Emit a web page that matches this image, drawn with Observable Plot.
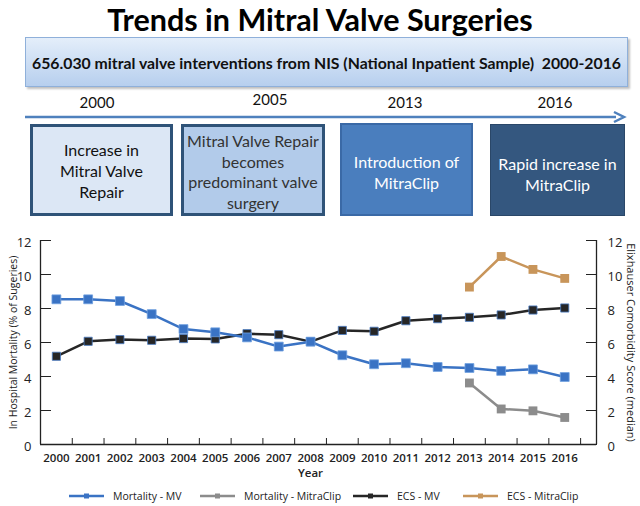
<!DOCTYPE html>
<html>
<head>
<meta charset="utf-8">
<script src="https://cdn.jsdelivr.net/npm/d3@7"></script>
<script src="https://cdn.jsdelivr.net/npm/@observablehq/plot@0.6"></script>
<style>
  html, body { margin: 0; padding: 0; background: #fff; }
  #wrap { position: relative; width: 640px; height: 506px; overflow: hidden; font-family: Lato, "Open Sans", sans-serif; }
  .abs { position: absolute; }
  #title { left: 0; width: 640px; top: 1px; text-align: center; font-size: 30.5px; font-weight: bold; color: #000; }
  #banner { left: 25px; top: 37px; width: 601px; height: 48px; border: 1px solid #8fb0da;
    background: linear-gradient(#e4eefa, #b7cfee); box-shadow: 2px 2px 2px rgba(0,0,0,0.25);
    display: flex; align-items: center; justify-content: center; font-size: 15.8px; font-weight: bold; color: #111; white-space: pre; }
  .yr { font-size: 15px; color: #111; transform: translateX(-50%); }
  .box { box-sizing: border-box; display: flex; flex-direction: column; align-items: center; justify-content: center; text-align: center; font-size: 16px; line-height: 21px; }
  #legend { left: 0; top: 489px; width: 640px; height: 16px; font-family: "Open Sans", sans-serif; font-size: 10.5px; color: #222; }
  .lg { position: absolute; display: flex; align-items: center; }
  #plot { left: 0; top: 228px; }
</style>
</head>
<body>
<div id="wrap">
  <div id="title" class="abs">Trends in Mitral Valve Surgeries</div>
  <div id="banner" class="abs">656.030 mitral valve interventions from NIS (National Inpatient Sample)  2000-2016</div>
  <div class="abs yr" style="left:97px; top:93px;">2000</div>
  <div class="abs yr" style="left:270px; top:90px;">2005</div>
  <div class="abs yr" style="left:405px; top:93px;">2013</div>
  <div class="abs yr" style="left:555px; top:93px;">2016</div>
  <svg class="abs" style="left:0; top:108px;" width="640" height="20">
    <line x1="25" y1="9" x2="616" y2="9" stroke="#4f81bd" stroke-width="2.5"/>
    <path d="M614,4 L624,9 L614,14" fill="none" stroke="#4f81bd" stroke-width="2.5"/>
  </svg>
  <div class="abs box" style="left:30px; top:124px; width:143px; height:92px; background:#dce7f5; border:3px solid #2f5378; color:#111;">Increase in<br>Mitral Valve<br>Repair</div>
  <div class="abs box" style="left:181px; top:124px; width:144px; height:92px; background:#b2cbea; border:3px solid #2f5378; color:#333; justify-content:flex-start; padding-top:4px; line-height:20.5px; overflow:hidden;">Mitral Valve Repair<br>becomes<br>predominant valve<br>surgery</div>
  <div class="abs box" style="left:340px; top:123px; width:133px; height:93px; background:#4a7ebe; border:2px solid #3a69a6; color:#fff; padding-bottom:0px; padding-top:4px;">Introduction of<br>MitraClip</div>
  <div class="abs box" style="left:490px; top:124px; width:135px; height:92px; background:#34577f; border:1px solid #2a4768; color:#fff; padding-top:8px;">Rapid increase in<br>MitraClip</div>
  <div id="plot" class="abs"></div>
  <div id="legend" class="abs"></div>
</div>
<script>
const years = [2000, 2001, 2002, 2003, 2004, 2005, 2006, 2007, 2008, 2009, 2010, 2011, 2012, 2013, 2014, 2015, 2016];
const mortalityMV = [8.54, 8.54, 8.44, 7.67, 6.79, 6.60, 6.30, 5.76, 6.05, 5.25, 4.72, 4.78, 4.56, 4.50, 4.33, 4.42, 3.97];
const ecsMV = [5.19, 6.07, 6.17, 6.13, 6.23, 6.21, 6.52, 6.46, 6.05, 6.71, 6.66, 7.28, 7.40, 7.48, 7.62, 7.91, 8.03];
const clipYears = [2013, 2014, 2015, 2016];
const mortalityClip = [3.62, 2.09, 1.98, 1.59];
const ecsClip = [9.26, 11.06, 10.30, 9.77];
const yTicks = [0, 2, 4, 6, 8, 10, 12];
const seriesNames = ["Mortality - MV", "Mortality - MitraClip", "ECS - MV", "ECS - MitraClip"];
const seriesColors = ["#3a73c4", "#8c8c8c", "#262626", "#c8955a"];

const mv = years.map((y, i) => ({year: y, mort: mortalityMV[i], ecs: ecsMV[i]}));
const clip = clipYears.map((y, i) => ({year: y, mort: mortalityClip[i], ecs: ecsClip[i]}));
const bounds = [years[0] - 0.5, ...years.map(y => y + 0.5)];
const xDomain = [years[0] - 0.5, years[years.length - 1] + 1];
const font = "'Open Sans', sans-serif";

const plot = Plot.plot({
  width: 640,
  height: 252,
  marginLeft: 40,
  marginRight: 44,
  marginTop: 12,
  marginBottom: 36,
  style: {fontFamily: font, fontSize: "13px", color: "#222", background: "transparent", overflow: "visible"},
  x: {domain: xDomain},
  y: {domain: [0, 12]},
  marks: [
    Plot.ruleX([xDomain[0], xDomain[1]], {stroke: "#222", strokeWidth: 1.3}),
    Plot.ruleY([0], {stroke: "#222", strokeWidth: 1.3}),
    Plot.axisY({anchor: "left", ticks: yTicks, tickSize: -11, tickFormat: () => "", label: null}),
    Plot.axisY({anchor: "right", ticks: yTicks, tickSize: -11, tickFormat: () => "", label: null}),
    Plot.axisY({anchor: "left", ticks: yTicks, tickSize: 0, tickPadding: 9, dy: 2, label: null, fontSize: 13}),
    Plot.axisY({anchor: "right", ticks: yTicks, tickSize: 0, tickPadding: 11, dy: 2, label: null, fontSize: 13}),
    Plot.axisX({ticks: years, tickSize: 0, tickPadding: 9, tickFormat: d => String(d), label: null, fontSize: 11.5, fontWeight: "600"}),
    Plot.axisX({ticks: bounds, tickSize: -6, tickFormat: () => "", label: null}),
    Plot.text(["In Hospital Mortality (% of Sugeries)"], {frameAnchor: "left", textAnchor: "middle", rotate: -90, dx: -27, fontSize: 10.5}),
    Plot.text(["Elixhauser Comorbidity Score (median)"], {frameAnchor: "right", textAnchor: "middle", rotate: 90, dx: 34, fontSize: 11}),
    Plot.text(["Year"], {frameAnchor: "bottom", dy: 32, dx: -8, fontSize: 11.5, fontWeight: "600"}),
    Plot.line(mv, {x: "year", y: "ecs", stroke: seriesColors[2], strokeWidth: 2.5}),
    Plot.dot(mv, {x: "year", y: "ecs", symbol: "square", r: 4.6, fill: seriesColors[2], stroke: "#4a7cc4", strokeWidth: 0.8}),
    Plot.line(mv, {x: "year", y: "mort", stroke: seriesColors[0], strokeWidth: 2.5}),
    Plot.dot(mv, {x: "year", y: "mort", symbol: "square", r: 5, fill: seriesColors[0], stroke: "#6e9fe0", strokeWidth: 0.8}),
    Plot.line(clip, {x: "year", y: "mort", stroke: seriesColors[1], strokeWidth: 2.5}),
    Plot.dot(clip, {x: "year", y: "mort", symbol: "square", r: 5, fill: seriesColors[1]}),
    Plot.line(clip, {x: "year", y: "ecs", stroke: seriesColors[3], strokeWidth: 2.5}),
    Plot.dot(clip, {x: "year", y: "ecs", symbol: "square", r: 5, fill: seriesColors[3]})
  ]
});
document.getElementById("plot").appendChild(plot);

const legendX = [69, 200, 353, 463];
const legend = document.getElementById("legend");
seriesNames.forEach((name, i) => {
  const d = document.createElement("div");
  d.className = "lg";
  d.style.left = legendX[i] + "px";
  d.style.top = "0px";
  d.innerHTML = `<svg width="44" height="14"><line x1="0" y1="7" x2="35" y2="7" stroke="${seriesColors[i]}" stroke-width="2.5"/><rect x="15" y="4.5" width="5" height="5" fill="${seriesColors[i]}"/></svg><span>${name}</span>`;
  legend.appendChild(d);
});
</script>
</body>
</html>
